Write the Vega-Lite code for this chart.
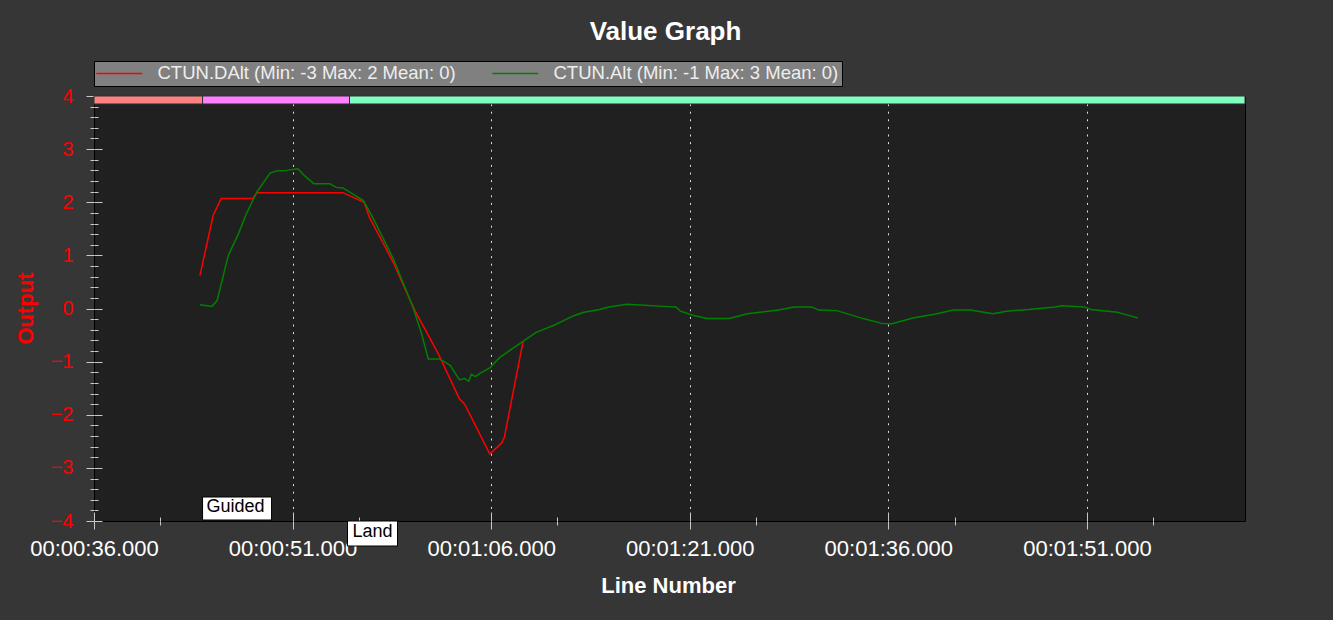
{
  "$schema": "https://vega.github.io/schema/vega-lite/v6.json",
  "width": 1151,
  "height": 425,
  "autosize": "none",
  "padding": {"left": 94, "top": 96, "right": 88, "bottom": 99},
  "background": "#363636",
  "config": {
    "font": "Liberation Sans",
    "view": {"fill": "#202020", "stroke": "#000000", "strokeWidth": 1}
  },
  "title": {
    "text": "Value Graph",
    "color": "#ffffff",
    "fontSize": 26,
    "fontWeight": "bold",
    "font": "Liberation Sans",
    "anchor": "middle",
    "frame": "group",
    "offset": 16,
    "dx": -4
  },
  "datasets": {
    "modes": [
      {"mode": "", "start": 36, "end": 44.2},
      {"mode": "Guided", "start": 44.2, "end": 55.3},
      {"mode": "Land", "start": 55.3, "end": 122.94}
    ],
    "series": [
      {"series": "CTUN.DAlt", "t": 44.0, "v": 0.62},
      {"series": "CTUN.DAlt", "t": 45.0, "v": 1.75},
      {"series": "CTUN.DAlt", "t": 45.6, "v": 2.07},
      {"series": "CTUN.DAlt", "t": 48.0, "v": 2.07},
      {"series": "CTUN.DAlt", "t": 48.3, "v": 2.18},
      {"series": "CTUN.DAlt", "t": 54.8, "v": 2.18},
      {"series": "CTUN.DAlt", "t": 56.4, "v": 2.0},
      {"series": "CTUN.DAlt", "t": 56.8, "v": 1.72},
      {"series": "CTUN.DAlt", "t": 58.6, "v": 0.87},
      {"series": "CTUN.DAlt", "t": 60.2, "v": -0.02},
      {"series": "CTUN.DAlt", "t": 62.0, "v": -0.85},
      {"series": "CTUN.DAlt", "t": 63.6, "v": -1.7},
      {"series": "CTUN.DAlt", "t": 64.0, "v": -1.8},
      {"series": "CTUN.DAlt", "t": 65.9, "v": -2.74},
      {"series": "CTUN.DAlt", "t": 66.8, "v": -2.53},
      {"series": "CTUN.DAlt", "t": 67.0, "v": -2.42},
      {"series": "CTUN.DAlt", "t": 68.4, "v": -0.63},
      {"series": "CTUN.Alt", "t": 44.0, "v": 0.07},
      {"series": "CTUN.Alt", "t": 44.9, "v": 0.04},
      {"series": "CTUN.Alt", "t": 45.3, "v": 0.15},
      {"series": "CTUN.Alt", "t": 45.65, "v": 0.5},
      {"series": "CTUN.Alt", "t": 46.15, "v": 1.0},
      {"series": "CTUN.Alt", "t": 46.9, "v": 1.4},
      {"series": "CTUN.Alt", "t": 47.5, "v": 1.78},
      {"series": "CTUN.Alt", "t": 48.3, "v": 2.19},
      {"series": "CTUN.Alt", "t": 49.3, "v": 2.55},
      {"series": "CTUN.Alt", "t": 49.8, "v": 2.59},
      {"series": "CTUN.Alt", "t": 50.55, "v": 2.6},
      {"series": "CTUN.Alt", "t": 51.4, "v": 2.63},
      {"series": "CTUN.Alt", "t": 51.9, "v": 2.5},
      {"series": "CTUN.Alt", "t": 52.6, "v": 2.35},
      {"series": "CTUN.Alt", "t": 53.8, "v": 2.35},
      {"series": "CTUN.Alt", "t": 54.3, "v": 2.28},
      {"series": "CTUN.Alt", "t": 54.8, "v": 2.27},
      {"series": "CTUN.Alt", "t": 56.35, "v": 2.03},
      {"series": "CTUN.Alt", "t": 57.1, "v": 1.69},
      {"series": "CTUN.Alt", "t": 58.6, "v": 0.94},
      {"series": "CTUN.Alt", "t": 60.1, "v": 0.02},
      {"series": "CTUN.Alt", "t": 60.75, "v": -0.48},
      {"series": "CTUN.Alt", "t": 61.25, "v": -0.95},
      {"series": "CTUN.Alt", "t": 62.1, "v": -0.95},
      {"series": "CTUN.Alt", "t": 62.9, "v": -1.07},
      {"series": "CTUN.Alt", "t": 63.6, "v": -1.34},
      {"series": "CTUN.Alt", "t": 64.0, "v": -1.32},
      {"series": "CTUN.Alt", "t": 64.3, "v": -1.37},
      {"series": "CTUN.Alt", "t": 64.5, "v": -1.24},
      {"series": "CTUN.Alt", "t": 64.8, "v": -1.28},
      {"series": "CTUN.Alt", "t": 65.15, "v": -1.22},
      {"series": "CTUN.Alt", "t": 65.9, "v": -1.12},
      {"series": "CTUN.Alt", "t": 66.65, "v": -0.92},
      {"series": "CTUN.Alt", "t": 68.4, "v": -0.62},
      {"series": "CTUN.Alt", "t": 69.4, "v": -0.45},
      {"series": "CTUN.Alt", "t": 70.7, "v": -0.32},
      {"series": "CTUN.Alt", "t": 71.2, "v": -0.26},
      {"series": "CTUN.Alt", "t": 72.2, "v": -0.14},
      {"series": "CTUN.Alt", "t": 73.0, "v": -0.07},
      {"series": "CTUN.Alt", "t": 74.2, "v": -0.02},
      {"series": "CTUN.Alt", "t": 74.9, "v": 0.03},
      {"series": "CTUN.Alt", "t": 76.25, "v": 0.08},
      {"series": "CTUN.Alt", "t": 77.6, "v": 0.06},
      {"series": "CTUN.Alt", "t": 78.95, "v": 0.04},
      {"series": "CTUN.Alt", "t": 79.95, "v": 0.03},
      {"series": "CTUN.Alt", "t": 80.3, "v": -0.05},
      {"series": "CTUN.Alt", "t": 81.3, "v": -0.13},
      {"series": "CTUN.Alt", "t": 82.3, "v": -0.19},
      {"series": "CTUN.Alt", "t": 84.0, "v": -0.19},
      {"series": "CTUN.Alt", "t": 85.35, "v": -0.1},
      {"series": "CTUN.Alt", "t": 87.7, "v": -0.03},
      {"series": "CTUN.Alt", "t": 88.9, "v": 0.03},
      {"series": "CTUN.Alt", "t": 90.2, "v": 0.03},
      {"series": "CTUN.Alt", "t": 90.75, "v": -0.03},
      {"series": "CTUN.Alt", "t": 92.1, "v": -0.04},
      {"series": "CTUN.Alt", "t": 94.1, "v": -0.19},
      {"series": "CTUN.Alt", "t": 95.5, "v": -0.28},
      {"series": "CTUN.Alt", "t": 96.2, "v": -0.29},
      {"series": "CTUN.Alt", "t": 97.85, "v": -0.18},
      {"series": "CTUN.Alt", "t": 99.5, "v": -0.11},
      {"series": "CTUN.Alt", "t": 100.9, "v": -0.03},
      {"series": "CTUN.Alt", "t": 102.2, "v": -0.03},
      {"series": "CTUN.Alt", "t": 103.2, "v": -0.07},
      {"series": "CTUN.Alt", "t": 103.9, "v": -0.1},
      {"series": "CTUN.Alt", "t": 104.9, "v": -0.05},
      {"series": "CTUN.Alt", "t": 106.6, "v": -0.02},
      {"series": "CTUN.Alt", "t": 108.6, "v": 0.03},
      {"series": "CTUN.Alt", "t": 109.1, "v": 0.05},
      {"series": "CTUN.Alt", "t": 110.8, "v": 0.03},
      {"series": "CTUN.Alt", "t": 111.3, "v": -0.02},
      {"series": "CTUN.Alt", "t": 113.3, "v": -0.07},
      {"series": "CTUN.Alt", "t": 114.0, "v": -0.12},
      {"series": "CTUN.Alt", "t": 114.85, "v": -0.18}
    ]
  },
  "layer": [
    {
      "data": {"name": "modes"},
      "mark": {"type": "rect", "stroke": "#303030", "strokeWidth": 1},
      "encoding": {
        "x": {
          "field": "start", "type": "quantitative",
          "scale": {"domain": [36, 122.94], "nice": false, "zero": false},
          "axis": {"orient": "bottom", "values": [36, 51, 66, 81, 96, 111], "offset": -9, "tickSize": 9, "tickColor": "#c8c8c8", "labels": false, "domain": false, "grid": false, "title": null}
        },
        "x2": {"field": "end"},
        "y": {
          "datum": 4, "type": "quantitative",
          "scale": {"domain": [-4, 4], "nice": false, "zero": false},
          "axis": {"orient": "left", "values": [-4, -3, -2, -1, 0, 1, 2, 3, 4], "offset": -8, "tickSize": 8, "tickColor": "#c8c8c8", "labels": false, "domain": false, "grid": false, "title": null}
        },
        "y2": {"datum": 3.85},
        "fill": {
          "field": "mode", "type": "nominal",
          "scale": {"domain": ["", "Guided", "Land"], "range": ["#ff8080", "#ff80ff", "#80ffc0"]},
          "legend": null
        }
      }
    },
    {
      "mark": {"type": "rule", "color": "#000000", "strokeWidth": 1},
      "encoding": {
        "y": {"datum": 0, "type": "quantitative", "scale": {"domain": [-4, 4], "nice": false, "zero": false}, "axis": null}
      }
    },
    {
      "data": {"name": "series"},
      "mark": {"type": "line", "strokeWidth": 1.5},
      "encoding": {
        "x": {
          "field": "t", "type": "quantitative",
          "scale": {"domain": [36, 122.94], "nice": false, "zero": false},
          "axis": {
            "orient": "bottom",
            "values": [36, 51, 66, 81, 96, 111],
            "labelExpr": "'00:' + pad(toString(floor(datum.value / 60)), 2, '0', 'left') + ':' + pad(toString(round(datum.value % 60)), 2, '0', 'left') + '.000'",
            "tickSize": 8, "tickColor": "#c8c8c8",
            "labelColor": "#ffffff", "labelFontSize": 22, "labelFont": "Liberation Sans",
            "labelFlush": false, "labelOverlap": false, "labelPadding": 9,
            "domain": false,
            "grid": true, "gridColor": "#e0e0e0", "gridDash": [2, 5.6],
            "gridOpacity": {"condition": {"test": "datum.value == 36", "value": 0}, "value": 1},
            "title": "Line Number", "titleColor": "#ffffff", "titleFontSize": 22, "titleFontWeight": "bold", "titleFont": "Liberation Sans",
            "titleX": 574, "titleY": 64, "titleBaseline": "middle", "titleAlign": "center"
          }
        },
        "y": {
          "field": "v", "type": "quantitative",
          "scale": {"domain": [-4, 4], "nice": false, "zero": false},
          "axis": {
            "orient": "left",
            "values": [-4, -3, -2, -1, 0, 1, 2, 3, 4],
            "tickSize": 8, "tickColor": "#c8c8c8",
            "labelColor": "#ff0000", "labelFontSize": 20, "labelFont": "Liberation Sans", "labelPadding": 13,
            "domain": false, "grid": false,
            "title": "Output", "titleColor": "#ff0000", "titleFontSize": 22, "titleFontWeight": "bold", "titleFont": "Liberation Sans",
            "titleX": -69, "titleY": 212, "titleAngle": -90, "titleBaseline": "middle", "titleAlign": "center"
          }
        },
        "color": {
          "field": "series", "type": "nominal",
          "scale": {"domain": ["CTUN.DAlt", "CTUN.Alt"], "range": ["#ff0000", "#008000"]},
          "legend": {
            "orient": "none", "legendX": 0, "legendY": -35, "direction": "horizontal",
            "columns": 2, "gridAlign": "all",
            "title": null,
            "fillColor": "#808080", "strokeColor": "#000000", "padding": 3,
            "symbolType": "M-3.33,0H12", "symbolSize": 36, "symbolStrokeWidth": 1.5,
            "labelOffset": 42, "labelFontSize": 18.5, "labelColor": "#eeeeee", "labelFont": "Liberation Sans",
            "columnPadding": 33, "labelLimit": 600,
            "labelExpr": "datum.label == 'CTUN.DAlt' ? 'CTUN.DAlt (Min: -3 Max: 2 Mean: 0)' : 'CTUN.Alt (Min: -1 Max: 3 Mean: 0)'"
          }
        }
      }
    },
    {
      "data": {"name": "modes"},
      "transform": [{"filter": "datum.mode != ''"}],
      "mark": {"type": "point", "filled": true, "fill": "#ffffff", "stroke": "#000000", "strokeWidth": 1, "size": 4, "opacity": 1},
      "encoding": {
        "x": {
          "field": "start", "type": "quantitative",
          "scale": {"domain": [36, 122.94], "nice": false, "zero": false},
          "axis": {"orient": "bottom", "values": [41, 56, 71, 86, 101, 116], "tickSize": 4, "tickColor": "#c8c8c8", "labels": false, "domain": false, "grid": false, "title": null}
        },
        "y": {
          "datum": -4, "type": "quantitative",
          "scale": {"domain": [-4, 4], "nice": false, "zero": false},
          "axis": {"orient": "left", "values": [-3.8, -3.6, -3.4, -3.2, -2.8, -2.6, -2.4, -2.2, -1.8, -1.6, -1.4, -1.2, -0.8, -0.6, -0.4, -0.2, 0.2, 0.4, 0.6, 0.8, 1.2, 1.4, 1.6, 1.8, 2.2, 2.4, 2.6, 2.8, 3.2, 3.4, 3.6, 3.8], "tickSize": 4, "tickColor": "#c8c8c8", "labels": false, "domain": false, "grid": false, "title": null}
        },
        "shape": {
          "field": "mode", "type": "nominal",
          "scale": {"domain": ["Guided", "Land"], "range": ["M0,-24H69V-1H0Z", "M-2,0H48V25H-2Z"]},
          "legend": null
        }
      }
    },
    {
      "data": {"name": "modes"},
      "transform": [{"filter": "datum.mode != ''"}],
      "mark": {
        "type": "text", "align": "left", "baseline": "middle", "fontSize": 18, "font": "Liberation Sans", "color": "#000000",
        "dx": {"expr": "datum.mode == 'Land' ? 3 : 4"},
        "dy": {"expr": "datum.mode == 'Land' ? 11 : -14"}
      },
      "encoding": {
        "x": {
          "field": "start", "type": "quantitative",
          "scale": {"domain": [36, 122.94], "nice": false, "zero": false},
          "axis": {"orient": "bottom", "values": [41, 56, 71, 86, 101, 116], "offset": -4, "tickSize": 4, "tickColor": "#c8c8c8", "labels": false, "domain": false, "grid": false, "title": null}
        },
        "y": {
          "datum": -4, "type": "quantitative",
          "scale": {"domain": [-4, 4], "nice": false, "zero": false},
          "axis": {"orient": "left", "values": [-3.8, -3.6, -3.4, -3.2, -2.8, -2.6, -2.4, -2.2, -1.8, -1.6, -1.4, -1.2, -0.8, -0.6, -0.4, -0.2, 0.2, 0.4, 0.6, 0.8, 1.2, 1.4, 1.6, 1.8, 2.2, 2.4, 2.6, 2.8, 3.2, 3.4, 3.6, 3.8], "offset": -4, "tickSize": 4, "tickColor": "#c8c8c8", "labels": false, "domain": false, "grid": false, "title": null}
        },
        "text": {"field": "mode", "type": "nominal"}
      }
    }
  ],
  "resolve": {"axis": {"x": "independent", "y": "independent"}}
}
